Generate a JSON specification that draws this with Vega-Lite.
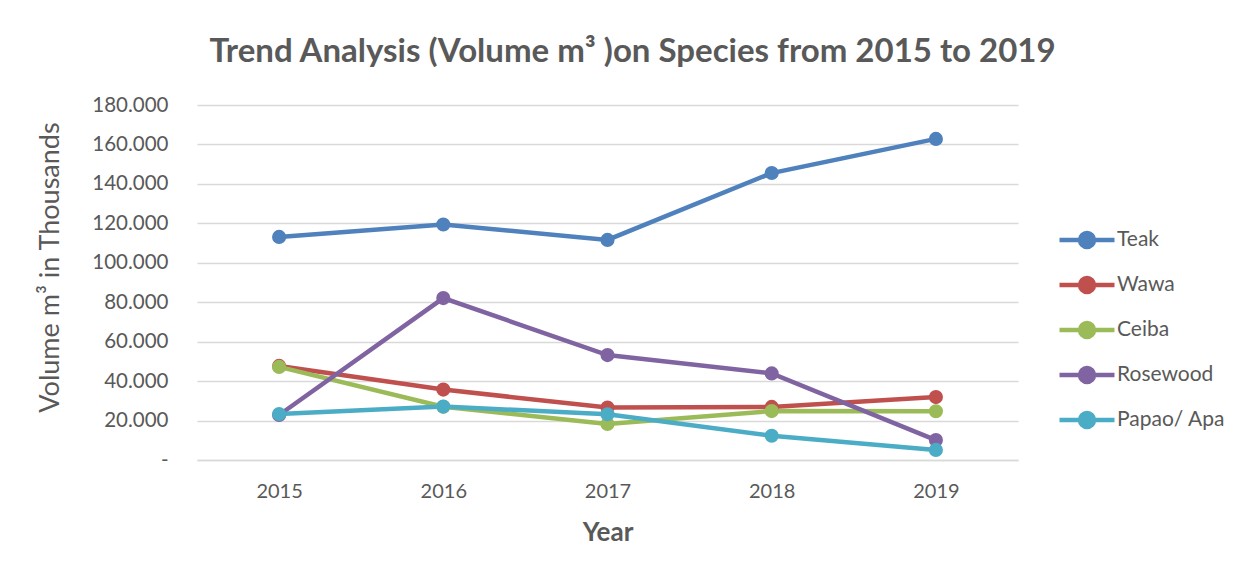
{
  "$schema": "https://vega.github.io/schema/vega-lite/v6.json",
  "autosize": "none",
  "width": 821,
  "height": 355,
  "padding": {"left": 197, "top": 105, "right": 237, "bottom": 117},
  "background": "white",
  "title": {
    "text": "Trend Analysis (Volume m³ )on Species from 2015 to 2019",
    "font": "Lato", "fontSize": 33, "fontWeight": "bold", "color": "#595959",
    "anchor": "middle", "dx": 25, "offset": 26
  },
  "data": {"values": [
    {"Year": "2015", "Species": "Teak", "Volume": 113.1},
    {"Year": "2016", "Species": "Teak", "Volume": 119.4},
    {"Year": "2017", "Species": "Teak", "Volume": 111.6},
    {"Year": "2018", "Species": "Teak", "Volume": 145.5},
    {"Year": "2019", "Species": "Teak", "Volume": 162.8},
    {"Year": "2015", "Species": "Wawa", "Volume": 47.7},
    {"Year": "2016", "Species": "Wawa", "Volume": 35.7},
    {"Year": "2017", "Species": "Wawa", "Volume": 26.6},
    {"Year": "2018", "Species": "Wawa", "Volume": 26.9},
    {"Year": "2019", "Species": "Wawa", "Volume": 31.9},
    {"Year": "2015", "Species": "Ceiba", "Volume": 47.2},
    {"Year": "2016", "Species": "Ceiba", "Volume": 27.0},
    {"Year": "2017", "Species": "Ceiba", "Volume": 18.3},
    {"Year": "2018", "Species": "Ceiba", "Volume": 24.8},
    {"Year": "2019", "Species": "Ceiba", "Volume": 24.7},
    {"Year": "2015", "Species": "Rosewood", "Volume": 22.8},
    {"Year": "2016", "Species": "Rosewood", "Volume": 82.1},
    {"Year": "2017", "Species": "Rosewood", "Volume": 53.2},
    {"Year": "2018", "Species": "Rosewood", "Volume": 43.9},
    {"Year": "2019", "Species": "Rosewood", "Volume": 10.1},
    {"Year": "2015", "Species": "Papao/ Apa", "Volume": 23.3},
    {"Year": "2016", "Species": "Papao/ Apa", "Volume": 27.1},
    {"Year": "2017", "Species": "Papao/ Apa", "Volume": 23.2},
    {"Year": "2018", "Species": "Papao/ Apa", "Volume": 12.3},
    {"Year": "2019", "Species": "Papao/ Apa", "Volume": 5.1}
  ]},
  "encoding": {
    "x": {
      "field": "Year", "type": "ordinal",
      "scale": {"type": "point", "padding": 0.5},
      "axis": {
        "title": "Year", "labelAngle": 0, "labelFont": "Lato", "labelFontSize": 20,
        "labelColor": "#595959", "labelPadding": 21, "ticks": false,
        "domainColor": "#D9D9D9", "domainWidth": 1.5, "grid": false,
        "titleFont": "Lato", "titleFontSize": 26, "titleFontWeight": "bold",
        "titleColor": "#595959", "titlePadding": 18
      }
    },
    "y": {
      "field": "Volume", "type": "quantitative",
      "scale": {"domain": [0, 180], "nice": false},
      "axis": {
        "values": [0, 20, 40, 60, 80, 100, 120, 140, 160, 180],
        "labelExpr": "datum.value == 0 ? '-\u00a0\u00a0\u00a0\u00a0' : format(datum.value, '.3f')",
        "labelFont": "Lato", "labelFontSize": 20.5, "labelColor": "#595959",
        "labelPadding": 29, "ticks": false, "domain": false,
        "gridColor": "#D9D9D9", "gridWidth": 1.5,
        "title": "Volume m³ in Thousands", "titleFont": "Lato", "titleFontSize": 27,
        "titleFontWeight": "normal", "titleColor": "#595959",
        "titleX": -147, "titleY": 162, "titleAngle": -90, "titleAlign": "center",
        "titleBaseline": "middle"
      }
    },
    "color": {
      "field": "Species", "type": "nominal",
      "scale": {
        "domain": ["Teak", "Wawa", "Ceiba", "Rosewood", "Papao/ Apa"],
        "range": ["#4F81BD", "#C0504D", "#9BBB59", "#8064A2", "#4BACC6"]
      },
      "legend": {
        "title": null, "orient": "none", "legendX": 869, "legendY": 114,
        "symbolType": "M-1.5,0H1.5M-0.38,0A0.38,0.38 0 1,1 0.38,0A0.38,0.38 0 1,1 -0.38,0Z",
        "symbolSize": 1344, "symbolStrokeWidth": 4.5,
        "labelFont": "Lato", "labelFontSize": 21, "labelColor": "#595959",
        "labelOffset": 9, "rowPadding": 8,
        "encode": {"symbols": {"update": {"fill": {"scale": "color", "field": "value"}, "opacity": {"value": 1}}}}
      }
    }
  },
  "mark": {"type": "line", "strokeWidth": 4.5, "point": {"size": 200, "filled": true, "opacity": 1}},
  "config": {"view": {"stroke": null}}
}
